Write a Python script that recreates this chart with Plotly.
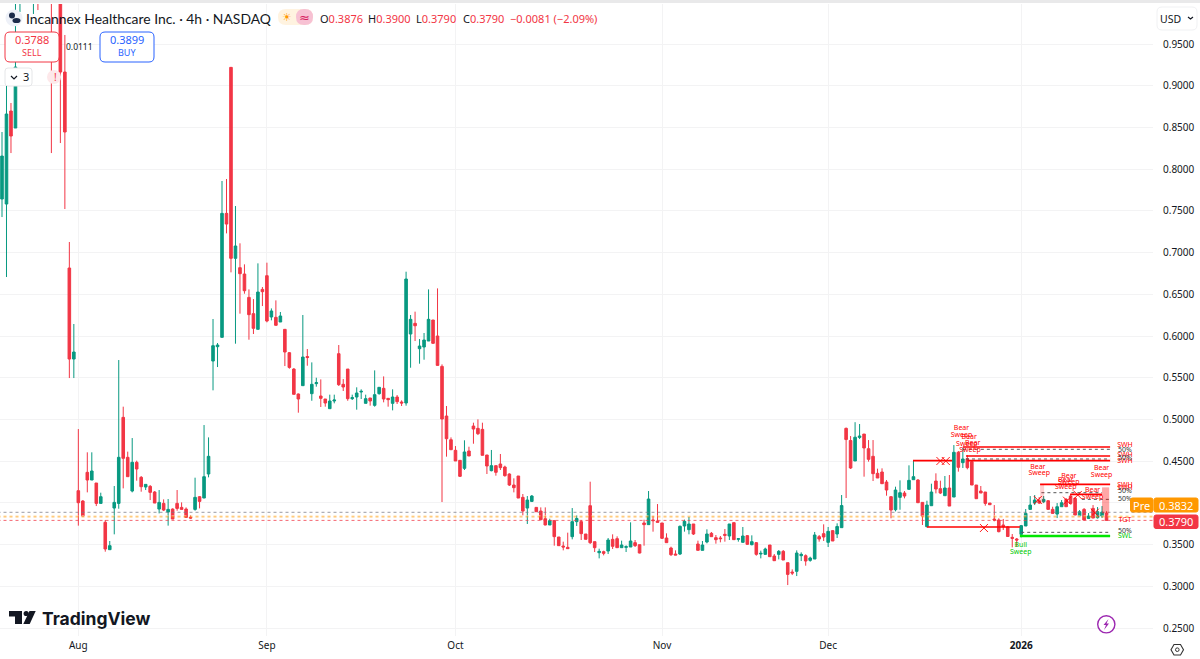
# Incannex Healthcare 4h chart
import plotly.graph_objects as go

# ---- candles, one value per 4h bar (bars above the visible range are estimates) ----
opens = [
    .7642, .7582, .8697, .8493, 1.05, 1.08, 1.12, 1.04, 1.10, 1.06,
    1.03, 1.06, 1.01, 1.05, .9164, .6815, .5724, .4146, .4022, .4366,
    .4274, .4238, .3994, .3767, .3439, .3938, .3994, .5025, .4546, .4142,
    .4486, .4306, .4190, .4198, .4130, .3926, .3994, .3890, .3926, .3994,
    .3946, .3926, .3826, .3922, .4074, .4058, .4346, .5700, .5872, .5984,
    .7470, .9220, .6931, .6819, .6743, .6463, .6268, .6080, .6559, .6723,
    .6228, .6224, .6168, .6080, .5800, .5604, .5305, .5405, .5754, .5309,
    .5429, .5281, .5245, .5129, .5221, .5788, .5421, .5604, .5249, .5269,
    .5329, .5193, .5257, .5169, .5309, .5373, .5253, .5193, .5269, .5209,
    .5197, .6024, .6152, .5848, .5868, .5940, .6192, .6000, .5636, .5041,
    .4757, .4630, .4510, .4414, .4622, .4921, .4893, .4881, .4574, .4386,
    .4446, .4466, .4430, .4346, .4214, .4322, .4066, .3938, .4018, .3946,
    .3902, .3810, .3735, .3787, .3591, .3483, .3467, .3595, .3775, .3775,
    .3627, .3966, .3535, .3403, .3415, .3423, .3563, .3571, .3463, .3467,
    .3471, .3523, .3499, .3759, .3739, .3795, .3783, .3759, .3579, .3459,
    .3387, .3387, .3723, .3679, .3747, .3507, .3431, .3531, .3635, .3583,
    .3579, .3623, .3603, .3763, .3563, .3527, .3607, .3499, .3523, .3387,
    .3383, .3495, .3363, .3383, .3419, .3283, .3171, .3179, .3367, .3367,
    .3311, .3327, .3595, .3631, .3527, .3667, .3627, .3703, .4893, .4747,
    .4502, .4785, .4825, .4649, .4558, .4354, .4370, .4250, .4074, .3918,
    .4066, .4118, .4162, .4278, .4274, .4006, .3715, .3966, .4262, .4170,
    .4086, .4178, .4070, .4606, .4482, .4530, .4494, .4214, .4142, .4130,
    .3998, .3806, .3795, .3735, .3711, .3587, .3567, .3623, .3723, .3922,
    .3998, .4026, .4014, .4026, .3922, .3866, .3954, .4042, .4082, .4054,
    .3846, .3922, .3814, .3934, .3822, .3842, .3876,
]
highs = [
    .8445, .9212, .8793, 1.015, 1.12, 1.15, 1.15, 1.12, 1.14, 1.10,
    1.06, 1.08, 1.05, 1.08, .9608, .7127, .6144, .4885, .4034, .4606,
    .4606, .4238, .4122, .3795, .3543, .4202, .5712, .5153, .4614, .4777,
    .4506, .4322, .4222, .4214, .4142, .4154, .4042, .4046, .3934, .4154,
    .4006, .3946, .3854, .4302, .4082, .4933, .4785, .6204, .5916, .7858,
    .7882, .9224, .7558, .7111, .6859, .6559, .6443, .6871, .6587, .6879,
    .6331, .6427, .6288, .6084, .5808, .5616, .5311, .6252, .5844, .5684,
    .5500, .5480, .5245, .5297, .5297, .5892, .5484, .5604, .5297, .5385,
    .5361, .5297, .5257, .5588, .5385, .5516, .5257, .5361, .5293, .5229,
    .6771, .6252, .6292, .5964, .6036, .6559, .6192, .6571, .5660, .5161,
    .4785, .4681, .4510, .4750, .4673, .4961, .5001, .4961, .4574, .4634,
    .4446, .4586, .4446, .4354, .4294, .4322, .4106, .4082, .4094, .3950,
    .3946, .3946, .3810, .3795, .3591, .3535, .3643, .3938, .3850, .3795,
    .3627, .4254, .3535, .3451, .3427, .3579, .3623, .3599, .3547, .3491,
    .3767, .3555, .3499, .3798, .4142, .3846, .3986, .3759, .3635, .3475,
    .3431, .3729, .3799, .3831, .3747, .3547, .3543, .3683, .3651, .3615,
    .3603, .3687, .3747, .3763, .3579, .3711, .3615, .3611, .3531, .3427,
    .3463, .3495, .3387, .3435, .3435, .3283, .3203, .3431, .3407, .3383,
    .3355, .3651, .3615, .3743, .3711, .3675, .3755, .4094, .4903, .4801,
    .4967, .4945, .4825, .4753, .4753, .4410, .4414, .4274, .4082, .4194,
    .4270, .4142, .4450, .4502, .4286, .4010, .4026, .4230, .4354, .4266,
    .4322, .4334, .4693, .4622, .4662, .4574, .4502, .4214, .4202, .4130,
    .3998, .3974, .3815, .3807, .3723, .3627, .3579, .3735, .3926, .4082,
    .4094, .4070, .4082, .4034, .3954, .3998, .4034, .4058, .4106, .4070,
    .3914, .3938, .3878, .3974, .3950, .3962, .3900,
]
lows = [
    .7426, .6707, .8193, .8493, .9884, 1.05, 1.02, .9860, .9907, 1.01,
    1.005, .8193, 1.002, .8313, .7522, .5496, .5496, .3727, .3842, .4126,
    .4274, .3962, .3994, .3415, .3439, .3623, .3930, .4174, .4314, .4126,
    .4266, .4134, .4154, .4034, .3998, .3874, .3902, .3727, .3806, .3906,
    .3922, .3826, .3810, .3906, .3934, .4058, .4306, .5349, .5628, .5984,
    .7230, .6763, .5908, .6268, .6507, .5956, .6024, .6080, .6359, .6164,
    .6188, .6128, .6168, .5640, .5608, .5301, .5081, .5405, .5644, .5224,
    .5393, .5149, .5153, .5129, .5193, .5401, .5341, .5224, .5233, .5117,
    .5245, .5193, .5165, .5153, .5297, .5205, .5153, .5109, .5185, .5161,
    .5165, .5620, .5940, .5668, .5716, .5940, .5912, .5648, .4010, .4554,
    .4637, .4502, .4310, .4394, .4562, .4709, .4813, .4570, .4346, .4378,
    .4326, .4394, .4314, .4202, .4126, .4058, .3850, .3747, .4010, .3894,
    .3794, .3731, .3735, .3487, .3483, .3431, .3451, .3563, .3723, .3555,
    .3563, .3507, .3411, .3335, .3371, .3387, .3447, .3463, .3463, .3411,
    .3471, .3471, .3395, .3487, .3739, .3655, .3767, .3567, .3523, .3363,
    .3375, .3375, .3655, .3623, .3615, .3431, .3431, .3515, .3595, .3511,
    .3527, .3535, .3555, .3555, .3535, .3523, .3495, .3491, .3367, .3335,
    .3379, .3355, .3307, .3323, .3315, .3015, .3135, .3123, .3303, .3247,
    .3295, .3327, .3535, .3543, .3471, .3543, .3579, .3703, .4058, .4406,
    .4502, .4765, .4314, .4494, .4262, .4298, .4230, .4086, .3815, .3898,
    .3918, .4054, .4162, .4278, .4002, .3735, .3707, .3966, .4114, .4106,
    .4086, .3962, .4070, .4374, .4418, .4402, .4214, .4050, .4118, .3966,
    .3974, .3779, .3647, .3675, .3595, .3467, .3475, .3587, .3723, .3922,
    .3974, .3986, .3998, .3922, .3874, .3818, .3954, .3954, .3994, .3854,
    .3842, .3794, .3806, .3818, .3812, .3818, .3790,
]
closes = [
    .8157, .8661, .8397, .9224, 1.10, 1.12, 1.06, 1.09, 1.05, 1.03,
    1.01, 1.02, 1.03, .9164, .8445, .5724, .5808, .4002, .3842, .4274,
    .4382, .3994, .4074, .3447, .3487, .4006, .4546, .4534, .4314, .4486,
    .4406, .4194, .4222, .4126, .3998, .4006, .3914, .3922, .3806, .3934,
    .3922, .3826, .3818, .4066, .4018, .4314, .4558, .5884, .5892, .7470,
    .7342, .6931, .7079, .6747, .6543, .6256, .6092, .6527, .6531, .6180,
    .6300, .6128, .6240, .5808, .5624, .5301, .5245, .5748, .5742, .5421,
    .5441, .5253, .5197, .5221, .5233, .5417, .5389, .5249, .5261, .5317,
    .5337, .5249, .5221, .5297, .5385, .5245, .5237, .5269, .5213, .5197,
    .6683, .6200, .6123, .5880, .5952, .6200, .5912, .5648, .5005, .4769,
    .4637, .4502, .4318, .4610, .4562, .4885, .4829, .4570, .4442, .4446,
    .4366, .4422, .4326, .4214, .4182, .4058, .3902, .4034, .4082, .3894,
    .3798, .3735, .3787, .3595, .3487, .3471, .3451, .3775, .3813, .3631,
    .3563, .3523, .3463, .3419, .3395, .3555, .3479, .3463, .3495, .3475,
    .3543, .3487, .3399, .3739, .4046, .3787, .3767, .3575, .3523, .3379,
    .3375, .3719, .3779, .3747, .3627, .3431, .3495, .3627, .3595, .3559,
    .3571, .3611, .3747, .3559, .3571, .3603, .3503, .3535, .3383, .3395,
    .3447, .3355, .3307, .3419, .3315, .3143, .3159, .3399, .3383, .3303,
    .3339, .3615, .3567, .3591, .3659, .3543, .3717, .3968, .4759, .4418,
    .4787, .4801, .4658, .4522, .4350, .4298, .4230, .4154, .3914, .4154,
    .4122, .4082, .4270, .4314, .4002, .3842, .3974, .4130, .4166, .4118,
    .4178, .3962, .4606, .4426, .4526, .4422, .4214, .4050, .4118, .3994,
    .3978, .3795, .3655, .3715, .3597, .3575, .3555, .3727, .3874, .3974,
    .4034, .3998, .4042, .3922, .3874, .3954, .4002, .3954, .3994, .3854,
    .3894, .3794, .3842, .3818, .3894, .3890, .3790,
]
bars = list(range(len(closes)))

# time axis: ticks sit on bar numbers
month_bars = [17, 59, 101, 147, 184, 227]
month_labels = ["Aug", "Sep", "Oct", "Nov", "Dec", "<b>2026</b>"]
price_ticks = [.25, .30, .35, .40, .45, .50, .55, .60, .65, .70, .75, .80, .85, .90, .95]
# 0.4000 sits behind the Pre tag in the picture, so its label stays empty
price_labels = ["0.2500", "0.3000", "0.3500", "", "0.4500", "0.5000", "0.5500", "0.6000",
                "0.6500", "0.7000", "0.7500", "0.8000", "0.8500", "0.9000", "0.9500"]

# current price lines that cross the whole pane
ask_price = .3887
pre_price = .3832
pre_band = .3845
last_price = .3790

# swing levels from the indicator: start bar, end bar, price
red_start = [214, 214.7, 202.9, 215.0, 206, 231.2, 237.9]
red_end = [246.8, 246.8, 211.6, 246.8, 226.7, 246.8, 245]
red_price = [.4669, .4562, .4506, .4506, .3711, .4222, .4102]
mid_start = [214, 214.7, 227, 231.5, 240.5]
mid_end = [246.8, 246.8, 246.8, 245, 246.8]
mid_price = [.4642, .4526, .3647, .4122, .4042]
green_start = [226.7]
green_end = [246.8]
green_price = [.3603]

break_bars = [209, 210.2, 218.7, 230.7, 237.2, 239.6, 243.4]
break_prices = [.4502, .4502, .3699, .4034, .4026, .4094, .3882]

sweep_bars = [213.7, 213.7, 215.4, 214.9, 216.2, 215.6, 230.7, 231, 237.6, 237.6,
              236.9, 236.9, 242.9, 242.9, 244.9, 244.9]
sweep_prices = [.4897, .4805, .4789, .4705, .4717, .4626, .4430, .4358, .4322, .4242,
                .4266, .4190, .4154, .4070, .4414, .4326]
sweep_texts = ["Bear", "Sweep"] * 8
bull_bars = [226.9, 226.9]
bull_prices = [.3487, .3403]
bull_texts = ["Bull", "Sweep"]

swing_prices = [.4694, .4574, .4502, .4214, .4178, .3794]
swing_texts = ["SWH", "SWH", "SWH", "SWH", "SWH", "TGT"]
half_prices = [.4634, .4538, .4142, .4046, .3663]
label_bar = 250.1

UP = "#089981"
DOWN = "#F23645"
INK = "#131722"
GRID = "#f3f3f4"
FONT = "Noto Sans"

# pane position in the 1200x659 picture
L, T, W, H = 0, 4, 1153, 632


def fx(x):
    return (x - L) / W


def fy(y):
    return 1 - (y - T) / H


def rounded(x0, y0, x1, y1, r):
    # rounded box as an svg path in paper units
    return (
        f"M {fx(x0 + r)} {fy(y0)} L {fx(x1 - r)} {fy(y0)} Q {fx(x1)} {fy(y0)} {fx(x1)} {fy(y0 + r)} "
        f"L {fx(x1)} {fy(y1 - r)} Q {fx(x1)} {fy(y1)} {fx(x1 - r)} {fy(y1)} "
        f"L {fx(x0 + r)} {fy(y1)} Q {fx(x0)} {fy(y1)} {fx(x0)} {fy(y1 - r)} "
        f"L {fx(x0)} {fy(y0 + r)} Q {fx(x0)} {fy(y0)} {fx(x0 + r)} {fy(y0)} Z"
    )


def poly(points, close=True):
    body = " L ".join(f"{fx(x)} {fy(y)}" for x, y in points)
    return f"M {body}" + (" Z" if close else "")


def box(x0, y0, x1, y1, r, fill, line, width=1):
    return dict(type="path", xref="paper", yref="paper", path=rounded(x0, y0, x1, y1, r),
                fillcolor=fill, line=dict(color=line, width=width))


def shape_path(points, fill="rgba(0,0,0,0)", line="rgba(0,0,0,0)", width=0, close=True):
    return dict(type="path", xref="paper", yref="paper", path=poly(points, close),
                fillcolor=fill, line=dict(color=line, width=width))


def circle(cx, cy, rx, ry, fill, line="rgba(0,0,0,0)", width=0):
    return dict(type="circle", xref="paper", yref="paper", x0=fx(cx - rx), x1=fx(cx + rx),
                y0=fy(cy + ry), y1=fy(cy - ry), fillcolor=fill, line=dict(color=line, width=width))


def label(x, y, text, size=11, color=INK, anchor="left", font=FONT):
    return dict(xref="paper", yref="paper", x=fx(x), y=fy(y), text=text, showarrow=False,
                xanchor=anchor, yanchor="middle", font=dict(size=size, color=color, family=font),
                borderpad=0, borderwidth=0)


def segments(starts, ends, prices):
    xs, ys = [], []
    for a, b, p in zip(starts, ends, prices):
        xs += [a, b, None]
        ys += [p, p, None]
    return xs, ys


fig = go.Figure()
fig.add_trace(go.Candlestick(
    x=bars, open=opens, high=highs, low=lows, close=closes,
    increasing=dict(line=dict(color=UP, width=1), fillcolor=UP),
    decreasing=dict(line=dict(color=DOWN, width=1), fillcolor=DOWN),
    whiskerwidth=0, showlegend=False,
))

# dotted price lines
for price, color in [(ask_price, "#787b86"), (pre_band, "#ffe0a8"), (pre_price, "#FF9800"), (last_price, DOWN)]:
    fig.add_trace(go.Scatter(x=[bars[0] - 1, 257], y=[price, price], mode="lines", opacity=0.75,
                             line=dict(color=color, width=1, dash="dot"), showlegend=False))

# indicator levels
xs, ys = segments(mid_start, mid_end, mid_price)
fig.add_trace(go.Scatter(x=xs, y=ys, mode="lines", line=dict(color="#555", width=1, dash="dot"), showlegend=False))
xs, ys = segments(red_start, red_end, red_price)
fig.add_trace(go.Scatter(x=xs, y=ys, mode="lines", line=dict(color="#ff0000", width=1.6), showlegend=False))
xs, ys = segments(green_start, green_end, green_price)
fig.add_trace(go.Scatter(x=xs, y=ys, mode="lines", line=dict(color="#00e600", width=2.4), showlegend=False))
fig.add_trace(go.Scatter(x=break_bars, y=break_prices, mode="markers", showlegend=False,
                         marker=dict(symbol="x-thin", size=8, line=dict(color="#ff0000", width=0.9))))
fig.add_trace(go.Scatter(x=sweep_bars, y=sweep_prices, text=sweep_texts, mode="text", showlegend=False,
                         textfont=dict(size=7, color="#ff0000", family=FONT)))
fig.add_trace(go.Scatter(x=bull_bars, y=bull_prices, text=bull_texts, mode="text", showlegend=False,
                         textfont=dict(size=7, color="#00c800", family=FONT)))
fig.add_trace(go.Scatter(x=[label_bar] * len(swing_prices), y=swing_prices, text=swing_texts, mode="text",
                         showlegend=False, textfont=dict(size=7, color="#ff0000", family=FONT)))
fig.add_trace(go.Scatter(x=[label_bar] * len(half_prices), y=half_prices, text=["50%"] * len(half_prices),
                         mode="text", showlegend=False, textfont=dict(size=7, color="#333", family=FONT)))
fig.add_trace(go.Scatter(x=[label_bar], y=[green_price[0]], text=["SWL"], mode="text", showlegend=False,
                         textfont=dict(size=7, color="#00c800", family=FONT)))

shapes = [
    # header strip
    dict(type="rect", xref="paper", yref="paper", x0=0, x1=1200 / W, y0=fy(0), y1=fy(3),
         fillcolor="#e9e9ea", line=dict(width=0)),
    # pale sweep zones
    dict(type="rect", xref="x", yref="y", x0=231.2, x1=232.1, y0=.4222, y1=.3994,
         fillcolor="rgba(255,0,0,0.18)", line=dict(width=0)),
    dict(type="rect", xref="x", yref="y", x0=245, x1=246.6, y0=.4186, y1=.3874,
         fillcolor="rgba(255,0,0,0.35)", line=dict(width=0)),
    # symbol logo
    circle(14, 18, 8.5, 8.5, "#eef1f8"),
    circle(12, 15.5, 3, 3, "#1c2b4a"),
    circle(16.5, 20.5, 4, 2.6, "#1c2b4a"),
    # session pills
    box(278, 9, 313, 25, 8, "#fff3e0", "rgba(0,0,0,0)", 0),
    box(296, 9, 313, 25, 8, "#f7c1d3", "rgba(0,0,0,0)", 0),
    # trade buttons
    box(5, 32, 59, 62, 5, "white", DOWN),
    box(100, 32, 154, 62, 5, "white", "#2962FF"),
    box(5, 68, 32, 86, 3, "white", "#e5e6e8"),
    shape_path([(11, 76), (14, 79), (17, 76)], line=INK, width=1.2, close=False),
    circle(54, 77, 7, 7, "#fde8ea"),
    # currency box and its chevron
    box(1157, 7, 1197, 30, 5, "white", "#f0f1f3"),
    shape_path([(1188, 17), (1190.5, 19), (1193, 17)], line=INK, width=1.2, close=False),
    # right side price tags
    box(1130.5, 498, 1153, 512, 2, "#FF9800", "#FF9800"),
    box(1154, 498, 1198, 512, 2, "#FF9800", "#FF9800"),
    box(1154, 515, 1198, 528.5, 2, DOWN, DOWN),
    # bolt button
    circle(1106.3, 624.3, 8.6, 8.6, "white", "#9C27B0", 1.4),
    shape_path([(1108.5, 619), (1103.5, 625), (1106, 625), (1104, 630), (1109, 623.6), (1106.5, 623.6)], fill="#9C27B0"),
    # settings hexagon
    shape_path([(1171, 649.7), (1174, 644.5), (1180.5, 644.5), (1183.5, 649.7), (1180.5, 655), (1174, 655)],
               line="#333", width=1.1),
    circle(1177.3, 649.7, 1.8, 1.8, "white", "#333", 1),
    # TradingView mark
    shape_path([(9, 611), (22, 611), (22, 624), (15, 624), (15, 616.5), (9, 616.5)], fill="#131722"),
    circle(26.2, 613.5, 2.6, 2.6, "#131722"),
    shape_path([(29.5, 611), (35.7, 611), (29.7, 624), (23.3, 624)], fill="#131722"),
]

annotations = [
    label(26, 18, "Incannex Healthcare Inc. · 4h · NASDAQ", size=13.9, font="Lato"),
    label(287, 17.5, "☀", size=11, color="#FF9800", anchor="center", font="DejaVu Sans"),
    label(304.5, 17.5, "≈", size=13, color="#D81B60", anchor="center", font="DejaVu Sans"),
    label(320, 18, f"O<span style='color:{DOWN}'>0.3876</span>"),
    label(368, 18, f"H<span style='color:{DOWN}'>0.3900</span>"),
    label(416, 18, f"L<span style='color:{DOWN}'>0.3790</span>"),
    label(463, 18, f"C<span style='color:{DOWN}'>0.3790</span>"),
    label(510, 18, "−0.0081 (−2.09%)", color=DOWN),
    label(32, 40, "0.3788", size=11, color=DOWN, anchor="center"),
    label(32, 52.5, "SELL", size=9, color=DOWN, anchor="center"),
    label(79, 46.5, "0.0111", size=8.5, anchor="center"),
    label(127, 40, "0.3899", size=11, color="#2962FF", anchor="center"),
    label(127, 52.5, "BUY", size=9, color="#2962FF", anchor="center"),
    label(25.5, 77, "3", size=11, anchor="center"),
    label(55, 77, "!", size=10, color=DOWN, anchor="center"),
    label(1170, 18.5, "USD", size=10.5, anchor="center"),
    label(1141.8, 505, "Pre", size=11, color="white", anchor="center"),
    label(1176, 505, "0.3832", size=11, color="white", anchor="center"),
    label(1176, 521.7, "0.3790", size=11, color="white", anchor="center"),
    label(42, 618, "<b>TradingView</b>", size=17.5, color="#131722", font="Inter"),
]

fig.update_layout(
    width=1200, height=659, autosize=False,
    margin=dict(l=L, r=1200 - L - W, t=T, b=659 - T - H, pad=0),
    paper_bgcolor="white", plot_bgcolor="white",
    font=dict(family=FONT, size=10, color=INK),
    showlegend=False, hovermode=False, boxgap=0.18,
    shapes=shapes, annotations=annotations,
    xaxis=dict(
        range=[-0.445, 256.35], rangeslider=dict(visible=False), type="linear",
        tickmode="array", tickvals=month_bars, ticktext=month_labels,
        showgrid=True, gridcolor=GRID, gridwidth=1, zeroline=False, showline=False,
        ticks="", tickfont=dict(size=10, color=INK, family=FONT), ticklabelstandoff=2,
    ),
    yaxis=dict(
        range=[.24044, .99795], side="right", tickmode="array", tickvals=price_ticks,
        ticktext=price_labels, showgrid=True, gridcolor=GRID, gridwidth=1, zeroline=False,
        showline=False, ticks="", tickfont=dict(size=10, color=INK, family=FONT),
        ticklabelstandoff=9, automargin=False,
    ),
)

fig.write_html("out.html", config=dict(displayModeBar=False),
               post_script="document.body.style.margin='0';document.body.style.overflow='hidden';")
